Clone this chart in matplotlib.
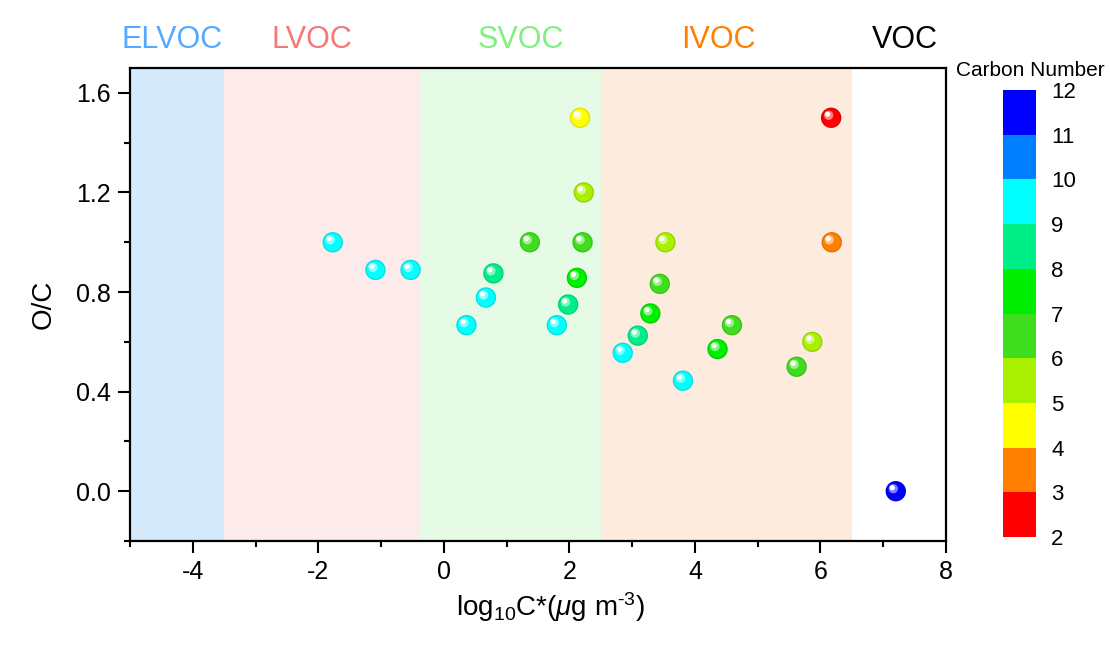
import matplotlib
matplotlib.use("Agg")
import matplotlib.pyplot as plt
import matplotlib.colors as mcolors
import matplotlib.transforms as mtransforms
import numpy as np

plt.rcParams['font.family'] = ['Liberation Sans', 'DejaVu Sans']
plt.rcParams['mathtext.fontset'] = 'custom'
plt.rcParams['mathtext.rm'] = 'Liberation Sans'
plt.rcParams['mathtext.it'] = 'Liberation Sans:italic'
plt.rcParams['axes.unicode_minus'] = False

# ---- data ----
logC = [-1.77, -1.09, -0.53, 0.36, 0.67, 1.80, 2.85, 3.81,   # C9
        0.79, 1.98, 3.09,                                     # C8
        2.12, 3.29, 4.36,                                     # C7
        1.37, 2.21, 3.44, 4.59, 5.62,                         # C6
        2.23, 3.53, 5.87,                                     # C5
        2.17,                                                 # C4
        6.18,                                                 # C3
        6.17,                                                 # C2
        7.20]                                                 # C11
oc = [1.0, 0.889, 0.889, 0.667, 0.778, 0.667, 0.556, 0.444,
      0.875, 0.75, 0.625,
      0.857, 0.714, 0.571,
      1.0, 1.0, 0.833, 0.667, 0.5,
      1.2, 1.0, 0.6,
      1.5,
      1.0,
      1.5,
      0.0]
carbon = [9, 9, 9, 9, 9, 9, 9, 9,
          8, 8, 8,
          7, 7, 7,
          6, 6, 6, 6, 6,
          5, 5, 5,
          4,
          3,
          2,
          11]

region_names = ['ELVOC', 'LVOC', 'SVOC', 'IVOC', 'VOC']
region_edges = [(-5.0, -3.5), (-3.5, -0.4), (-0.4, 2.5), (2.5, 6.5)]
region_fill = ['#d5eafa', '#fdeaea', '#e5fbe5', '#fdebdd']
region_text_color = ['#55aaff', '#f47878', '#80f080', '#ff8000', '#000000']
region_label_x = [-4.33, -2.11, 1.23, 4.37, 7.35]

cbar_colors = ['#ff0000', '#ff8000', '#ffff00', '#a8f000', '#40dc1e',
               '#00ee00', '#00ee88', '#00ffff', '#0080ff', '#0000ff']
cbar_bounds = list(range(2, 13))

# ---- figure ----
fig = plt.figure(figsize=(11.1, 6.5), dpi=100)
ax = fig.add_axes([130/1110, 1-541/650, (946-130)/1110, (541-68)/650])

for (x0, x1), c in zip(region_edges, region_fill):
    ax.axvspan(x0, x1, color=c, lw=0, zorder=0)

cmap = mcolors.ListedColormap(cbar_colors)
norm = mcolors.BoundaryNorm(cbar_bounds, cmap.N)

cols = cmap(norm(np.array(carbon)))
darker = cols.copy()
darker[:, :3] *= 0.88
ax.scatter(logC, oc, s=215, c=darker, edgecolors='none', zorder=3)
ax.scatter(logC, oc, s=165, c=cols, edgecolors='none', zorder=4)
light = cols.copy()
light[:, :3] = light[:, :3] * 0.5 + 0.5
off1 = mtransforms.offset_copy(ax.transData, fig=fig, x=-2.5, y=2.5, units='dots')
ax.scatter(logC, oc, s=45, c=light, edgecolors='none', zorder=5, transform=off1)
off2 = mtransforms.offset_copy(ax.transData, fig=fig, x=-3.5, y=3.5, units='dots')
ax.scatter(logC, oc, s=14, c='white', edgecolors='none', zorder=6, transform=off2)

ax.set_xlim(-5, 8)
ax.set_ylim(-0.2, 1.7)
ax.set_xticks([-4, -2, 0, 2, 4, 6, 8])
ax.set_xticks(np.arange(-5, 8.1, 1), minor=True)
ax.set_yticks([0.0, 0.4, 0.8, 1.2, 1.6])
ax.set_yticks(np.arange(-0.2, 1.71, 0.2), minor=True)
ax.yaxis.set_major_formatter(matplotlib.ticker.FormatStrFormatter('%.1f'))
ax.tick_params(which='major', direction='out', length=8.5, width=1.5,
               labelsize=18, pad=5, top=False, right=False)
ax.tick_params(which='minor', direction='out', length=4.3, width=1.5,
               top=False, right=False)
for sp in ax.spines.values():
    sp.set_linewidth(1.6)

ax.set_xlabel(r'log$_{10}$C*($\mu$g m$^{\text{-3}}$)', fontsize=20, labelpad=4)
ax.xaxis.set_label_coords(0.515, -0.105)
ax.set_ylabel('O/C', fontsize=20, labelpad=14)

trans = mtransforms.blended_transform_factory(ax.transData, fig.transFigure)
for name, col, xl in zip(region_names, region_text_color, region_label_x):
    ax.text(xl, 1-40/650, name, color=col, fontsize=22, ha='center',
            va='center', transform=trans, clip_on=False)

# colorbar
cax = fig.add_axes([1003/1110, 1-537/650, 33/1110, (537-90)/650])
sm = matplotlib.cm.ScalarMappable(norm=norm, cmap=cmap)
cb = fig.colorbar(sm, cax=cax, ticks=cbar_bounds)
cb.outline.set_visible(False)
cax.tick_params(length=0, labelsize=16, pad=11)
fig.text(1030/1110, 1-71/650, 'Carbon Number', fontsize=15, ha='center', va='center')

fig.savefig('out.png', dpi=100)
